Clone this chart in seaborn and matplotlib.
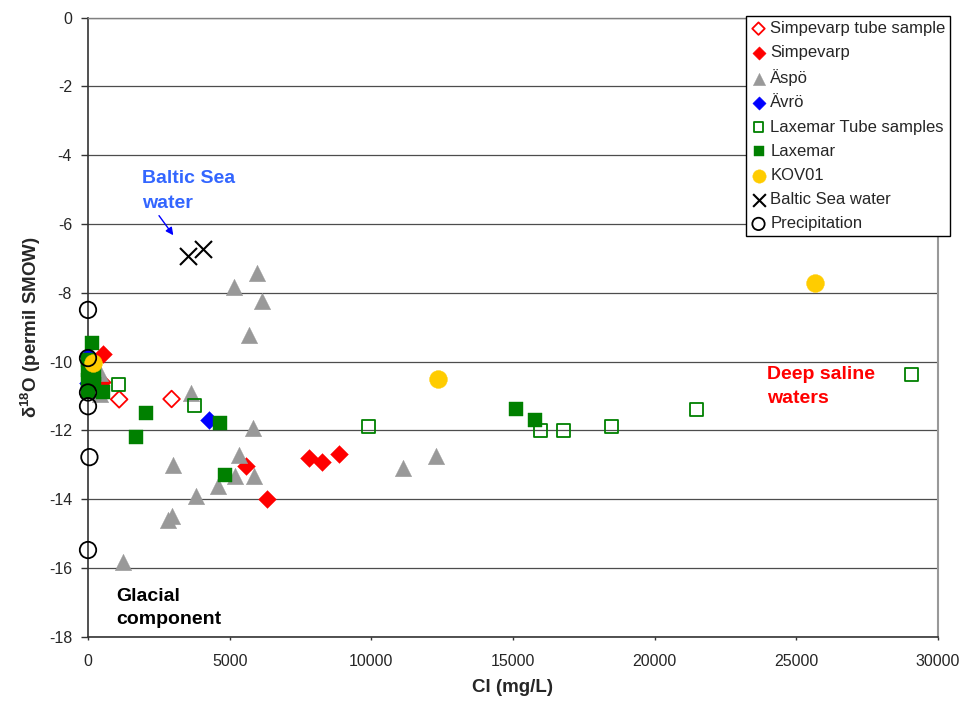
import matplotlib
matplotlib.use("Agg")
import matplotlib.pyplot as plt
import seaborn as sns
import pandas as pd

# ---- data: chloride (mg/L) and delta-18O (permil SMOW) per sample group ----
simpevarp_tube_cl = [1100, 2950]
simpevarp_tube_d18o = [-11.10, -11.09]

simpevarp_cl = [540, 480, 30, 5570, 6300, 7810, 8270, 8870]
simpevarp_d18o = [-9.78, -10.60, -10.65, -13.04, -14.01, -12.80, -12.91, -12.70]

aspo_cl = [420, 430, 5970, 5170, 6150, 5680, 3620, 5830, 3010, 5340, 5190,
           5870, 4600, 3820, 2830, 2950, 1250, 11100, 12290]
aspo_d18o = [-10.33, -10.95, -7.42, -7.83, -8.23, -9.23, -10.93, -11.92, -13.02,
             -12.73, -13.32, -13.32, -13.61, -13.91, -14.60, -14.50, -15.82,
             -13.10, -12.75]

avro_cl = [0, 0, 4270]
avro_d18o = [-9.85, -10.62, -11.70]

laxemar_tube_cl = [1070, 3770, 9890, 15970, 16780, 18470, 21470, 29070]
laxemar_tube_d18o = [-10.67, -11.29, -11.90, -12.00, -12.00, -11.90, -11.39, -10.39]

laxemar_cl = [130, 0, 0, 200, 0, 200, 0, 540, 1690, 2050, 4660, 4830, 15120, 15780]
laxemar_d18o = [-9.47, -9.95, -10.25, -10.35, -10.55, -10.65, -10.85, -10.88,
                -12.19, -11.49, -11.78, -13.30, -11.39, -11.70]

kov01_cl = [190, 12350, 25670]
kov01_d18o = [-10.05, -10.50, -7.71]

baltic_cl = [3530, 4070]
baltic_d18o = [-6.93, -6.72]

precip_cl = [0, 0, 0, 0, 50, 0]
precip_d18o = [-8.50, -9.90, -10.90, -11.30, -12.78, -15.48]

x_ticks = [0, 5000, 10000, 15000, 20000, 25000, 30000]
y_ticks = [0, -2, -4, -6, -8, -10, -12, -14, -16, -18]

sns.set_theme(style="white")
plt.rcParams["font.family"] = ["Liberation Sans", "DejaVu Sans"]
plt.rcParams["mathtext.fontset"] = "custom"
plt.rcParams["mathtext.rm"] = "Liberation Sans"
plt.rcParams["mathtext.bf"] = "Liberation Sans:bold"
plt.rcParams["mathtext.it"] = "Liberation Sans:italic"

fig = plt.figure(figsize=(9.64, 7.02), dpi=100)
ax = fig.add_axes([88 / 964, 1 - 636.7 / 702, 850 / 964, 619.2 / 702])

# series styles, drawn in legend order so later groups sit on top
series = [
    ("Simpevarp tube sample", simpevarp_tube_cl, simpevarp_tube_d18o,
     dict(marker="D", s=72, facecolor="none", edgecolor="#ff0000", color="#ff0000", linewidth=1.3)),
    ("Simpevarp", simpevarp_cl, simpevarp_d18o,
     dict(marker="D", s=82, color="#ff0000", edgecolor="#ff0000", linewidth=0.3)),
    ("Äspö", aspo_cl, aspo_d18o,
     dict(marker="^", s=140, color="#999999", edgecolor="#999999", linewidth=0.3)),
    ("Ävrö", avro_cl, avro_d18o,
     dict(marker="D", s=82, color="#0000ff", edgecolor="#0000ff", linewidth=0.3)),
    ("Laxemar Tube samples", laxemar_tube_cl, laxemar_tube_d18o,
     dict(marker="s", s=88, facecolor="none", edgecolor="#008000", color="#008000", linewidth=1.3)),
    ("Laxemar", laxemar_cl, laxemar_d18o,
     dict(marker="s", s=100, color="#008000", edgecolor="#008000", linewidth=0.3)),
    ("KOV01", kov01_cl, kov01_d18o,
     dict(marker="o", s=165, color="#ffcc00", edgecolor="#ffcc00", linewidth=0.3)),
    ("Baltic Sea water", baltic_cl, baltic_d18o,
     dict(marker="x", s=150, color="#000000", linewidth=1.5)),
    ("Precipitation", precip_cl, precip_d18o,
     dict(marker="o", s=140, facecolor="none", edgecolor="#000000", color="#000000", linewidth=1.3)),
]

for i, (name, xs, ys, style) in enumerate(series):
    df = pd.DataFrame({"Cl": xs, "d18O": ys})
    sns.scatterplot(data=df, x="Cl", y="d18O", ax=ax, label=name,
                    zorder=3 + i, clip_on=False, **style)

ax.set_xlim(0, 30000)
ax.set_ylim(-18, 0)
ax.set_xticks(x_ticks)
ax.set_xticklabels([str(v) for v in x_ticks])
ax.set_yticks(y_ticks)
ax.set_yticklabels([str(v) for v in y_ticks])

ax.grid(axis="y", color="#4d4d4d", linewidth=0.9)
ax.grid(axis="x", visible=False)
ax.set_axisbelow(True)

for side in ("left", "bottom"):
    ax.spines[side].set_color("#333333")
    ax.spines[side].set_linewidth(1.2)
ax.spines["top"].set_color("#808080")
ax.spines["top"].set_linewidth(1.0)
ax.spines["right"].set_color("#999999")
ax.spines["right"].set_linewidth(1.5)

ax.tick_params(axis="y", direction="out", length=5, width=1, color="#333333",
               pad=6.5, labelsize=11.5, left=True)
ax.tick_params(axis="x", direction="out", length=2.5, width=1, color="#333333",
               pad=10, labelsize=11.5, bottom=True)

ax.set_xlabel("Cl (mg/L)", fontsize=13.5, fontweight="bold")
ax.set_ylabel(r"$\mathbf{δ^{18}O}$ (permil SMOW)", fontsize=13.5, fontweight="bold")
ax.xaxis.set_label_coords(0.5, -0.068)
ax.yaxis.set_label_coords(-0.053, 0.5)

# region annotations
txt = dict(fontsize=14, fontweight="bold", va="baseline", ha="left")
ax.text(1895, -4.82, "Baltic Sea", color="#3366ff", **txt)
ax.text(1895, -5.55, "water", color="#3366ff", **txt)
ax.annotate("", xy=(3011, -6.33), xytext=(2506, -5.76),
            arrowprops=dict(arrowstyle="-|>", color="#0000ff", lw=1.0,
                            mutation_scale=11, shrinkA=0, shrinkB=0))
ax.text(23975, -10.52, "Deep saline", color="#ff0000", **txt)
ax.text(23975, -11.21, "waters", color="#ff0000", **txt)
ax.text(988, -16.95, "Glacial", color="#000000", **txt)
ax.text(988, -17.64, "component", color="#000000", **txt)

handles, labels = ax.get_legend_handles_labels()
leg = ax.legend(handles, labels, loc="upper left",
                bbox_to_anchor=(746 / 964, 1 - 16 / 702),
                bbox_transform=fig.transFigure, fontsize=12,
                frameon=True, fancybox=False, shadow=False,
                edgecolor="#000000", framealpha=1, borderpad=0.3,
                labelspacing=0.55, handlelength=0.9, handletextpad=0.25,
                borderaxespad=0, markerscale=0.75)
leg.get_frame().set_linewidth(1.0)
leg.set_zorder(20)

fig.savefig("out.png", dpi=100)
